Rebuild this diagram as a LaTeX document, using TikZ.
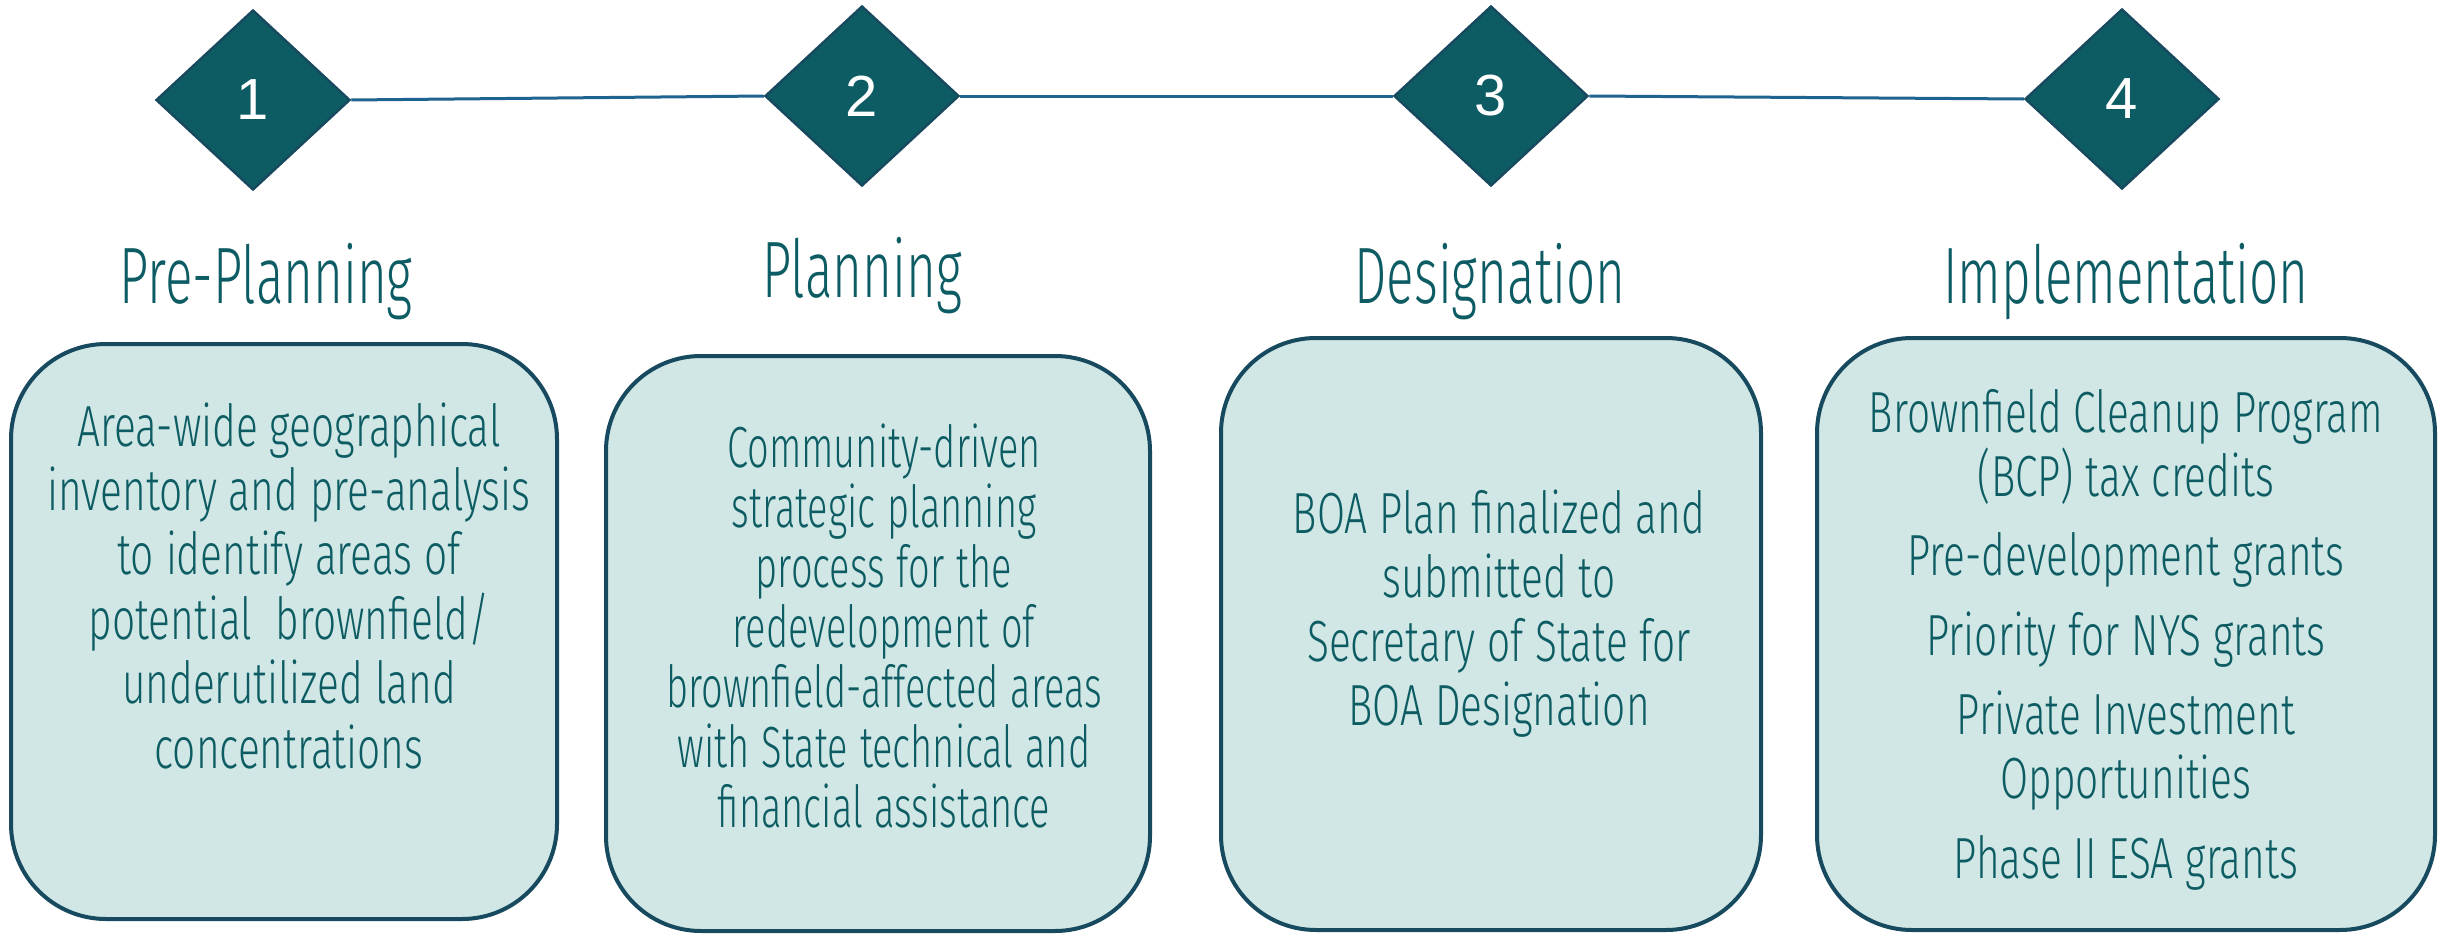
\documentclass[tikz,border=0pt]{standalone}
\usepackage{fontspec}
\setmainfont{Fira Sans Light}[FakeStretch=0.7]
\newfontfamily\narrowfont{Fira Sans Light}[FakeStretch=0.655]
\newfontfamily\titlefont{Fira Sans Light}[FakeStretch=0.64]
\newfontfamily\digitfont{Liberation Sans}
\usetikzlibrary{shapes.geometric}
\definecolor{dteal}{HTML}{0D5C63}
\definecolor{dborder}{HTML}{174A5E}
\definecolor{linkc}{HTML}{1F6391}
\definecolor{boxfill}{HTML}{D0E7E5}
\tikzset{
  stepdiamond/.style={diamond, draw=dborder, line width=2.5pt, fill=dteal, inner sep=0pt,
    minimum width=194pt, minimum height=180pt, text=white, font=\digitfont\fontsize{58}{60}\selectfont},
  link/.style={draw=linkc, line width=3pt},
  title/.style={anchor=base, text=dteal, inner sep=0pt, font=\titlefont\fontsize{80}{90}\selectfont},
  stagebox/.style={draw=dborder, line width=4pt, fill=boxfill, rounded corners=95pt},
  boxtext/.style={anchor=base, text=dteal, inner sep=0pt, align=center, text width=600pt,
    execute at begin node={\spaceskip=12pt\relax}}
}
\begin{document}
\begin{tikzpicture}[x=1pt,y=-1pt]
\useasboundingbox (0,0) rectangle (2447,934);
% boxes
\draw[stagebox] (11,344) rectangle (557,919);
\node[inner sep=0pt] (b1) at (284,631) {};
\draw[stagebox] (606,356) rectangle (1150,931);
\node[inner sep=0pt] (b2) at (878,643) {};
\draw[stagebox] (1221,338) rectangle (1761,930);
\node[inner sep=0pt] (b3) at (1491,634) {};
\draw[stagebox] (1817,338) rectangle (2435,930);
\node[inner sep=0pt] (b4) at (2126,634) {};
% diamonds
\node[stepdiamond] (d1) at (253,100) {1};
\node[stepdiamond] (d2) at (862,96) {2};
\node[stepdiamond] (d3) at (1491,96) {3};
\node[stepdiamond] (d4) at (2122,99) {4};
\draw[link] (d1.east) -- (d2.west);
\draw[link] (d2.east) -- (d3.west);
\draw[link] (d3.east) -- (d4.west);
% titles
\node[title] (h1) at (266,303) {Pre-Planning};
\node[title] (h2) at (862,297) {Planning};
\node[title] (h3) at (1490,303) {Designation};
\node[title] (h4) at (2126,303) {Implementation};
% texts
\node[boxtext, font=\fontsize{58}{64.4}\selectfont] (t1) at (289,446)
  {Area-wide geographical\\inventory and pre-analysis\\to identify areas of\\potential\ \ brownfield/\\underutilized land\\concentrations};
\node[boxtext, font=\narrowfont\fontsize{58}{60}\selectfont] (t2) at (884,467)
  {Community-driven\\strategic planning\\process for the\\redevelopment of\\brownfield-affected areas\\with State technical and\\financial assistance};
\node[boxtext, font=\fontsize{58}{64}\selectfont] (t3) at (1499,533)
  {BOA Plan finalized and\\submitted to\\Secretary of State for\\BOA Designation};
\node[boxtext, font=\fontsize{58}{64}\selectfont] (t4) at (2126,432)
  {Brownfield Cleanup Program\\(BCP) tax credits\\[15.5pt]Pre-development grants\\[15.5pt]Priority for NYS grants\\[15.5pt]Private Investment\\Opportunities\\[15.5pt]Phase II ESA grants};
\end{tikzpicture}
\end{document}
